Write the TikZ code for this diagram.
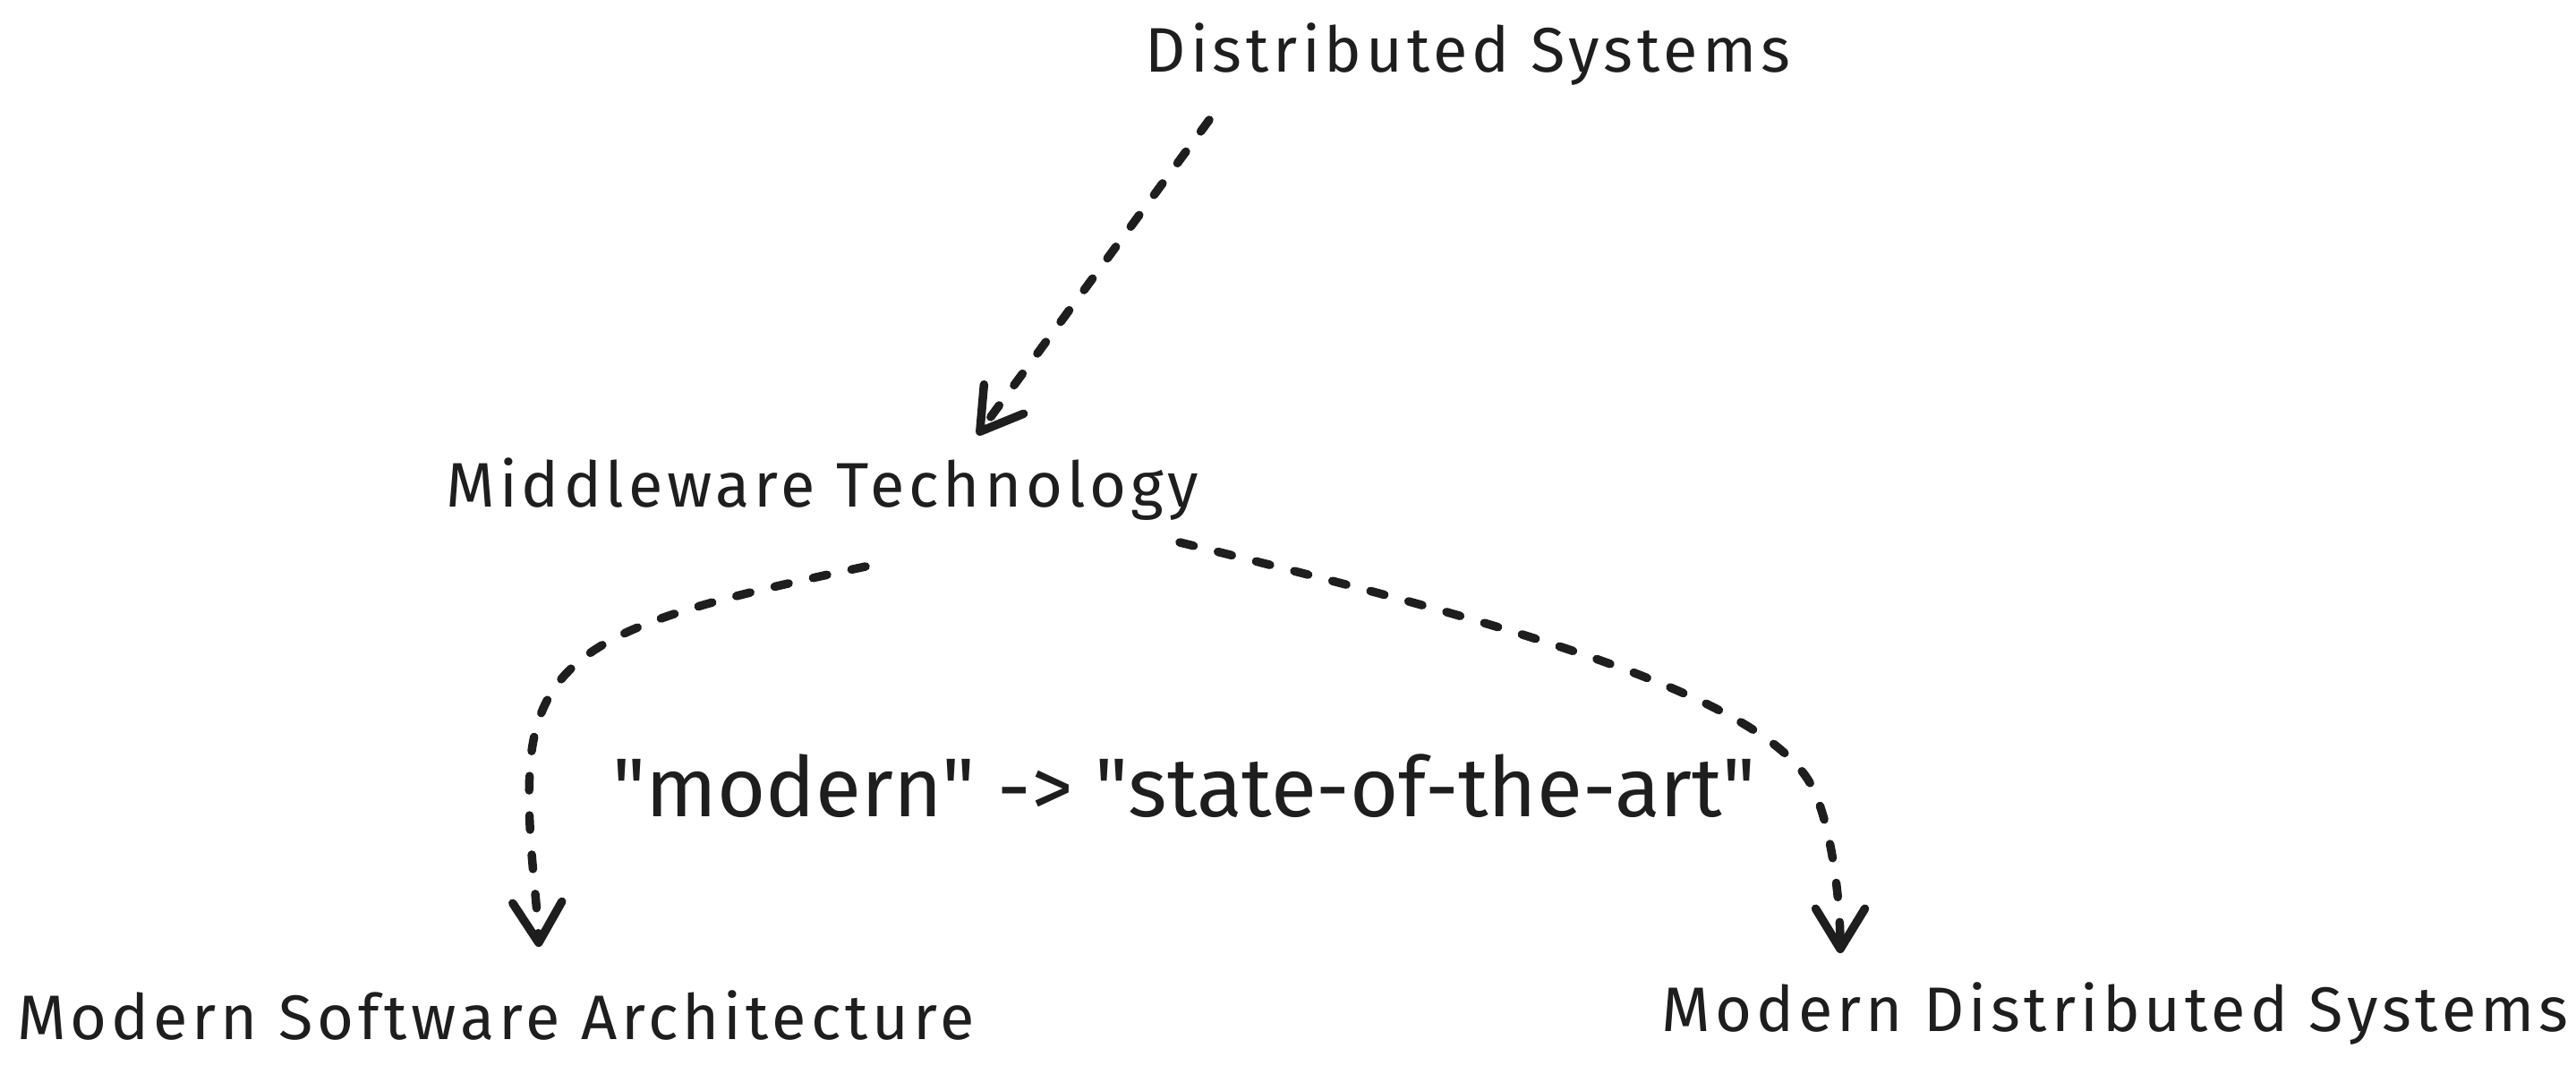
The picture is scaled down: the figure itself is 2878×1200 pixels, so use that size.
\documentclass[tikz,border=0pt]{standalone}
\usepackage{fontspec}
\setmainfont{Fira Sans}[LetterSpace=7]
\newfontfamily\notefont{Fira Sans}[LetterSpace=0]
\usetikzlibrary{arrows.meta,calc}
\definecolor{ink}{HTML}{1E1E1E}
\begin{document}
\begin{tikzpicture}[x=0.1mm,y=-0.1mm,
  lbl/.style={inner sep=0pt, text=ink, font=\fontsize{20}{24}\selectfont},
  biglbl/.style={inner sep=0pt, text=ink, font=\notefont\fontsize{26.5}{32}\selectfont},
  conn/.style={draw=ink, line width=0.95mm, line cap=round, line join=round,
    dash pattern=on 1.6mm off 2.8mm,
    -{Straight Barb[length=4.5mm,width=5.5mm,line cap=round,line join=round]}}]
\useasboundingbox (0,0) rectangle (2878,1200);
\node[lbl] (ds) at (1640,61) {Distributed Systems};
\node[lbl] (mt) at (919,547) {Middleware Technology};
\node[lbl] (msa) at (554,1134) {Modern Software Architecture};
\node[lbl] (mds) at (2363,1133) {Modern Distributed Systems};
\node[biglbl] (note) at (1323,878) {\textquotedbl modern\textquotedbl{} -> \textquotedbl state-of-the-art\textquotedbl};
\draw[conn] ($(ds.center)+(-289,73)$) -- ($(mt.center)+(173,-61)$);
\draw[conn] ($(mt.center)+(48,86)$) .. controls (700,690) and (600,720) .. (592,860)
  .. controls (588,930) and (600,1000) .. ($(msa.center)+(48,-76)$);
\draw[conn] ($(mt.center)+(399,59)$) .. controls (1700,700) and (1975,780) .. (2025,880)
  .. controls (2045,920) and (2056,1000) .. ($(mds.center)+(-307,-68)$);
\end{tikzpicture}
\end{document}
